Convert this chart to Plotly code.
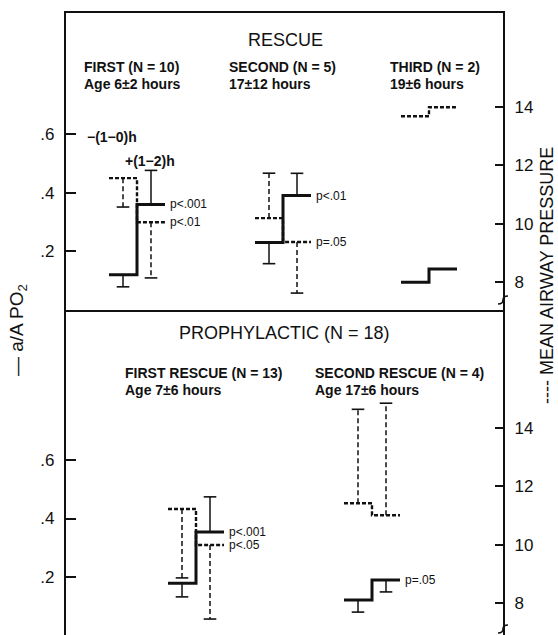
import plotly.graph_objects as go

# ---------------- data ----------------
top_groups = ["FIRST", "SECOND", "THIRD"]
top_apo2_pre = [0.12, 0.23, 0.095]
top_apo2_post = [0.36, 0.39, 0.14]
top_apo2_pre_err = [-0.041, -0.072, None]      # signed: + bar drawn up, - bar drawn down
top_apo2_post_err = [0.116, 0.076, None]
top_map_pre = [11.56, 10.19, 13.68]
top_map_post = [10.05, 9.37, 13.99]
top_map_pre_err = [-0.99, 1.54, None]
top_map_post_err = [-1.91, -1.75, None]
top_p_apo2 = ["p<.001", "p<.01", None]
top_p_map = ["p<.01", "p=.05", None]
top_titles = ["FIRST (N = 10)", "SECOND (N = 5)", "THIRD (N = 2)"]
top_ages = ["Age 6±2 hours", "17±12 hours", "19±6 hours"]

bot_groups = ["FIRST RESCUE", "SECOND RESCUE"]
bot_apo2_pre = [0.179, 0.121]
bot_apo2_post = [0.354, 0.19]
bot_apo2_pre_err = [-0.047, -0.041]
bot_apo2_post_err = [0.12, -0.041]
bot_map_pre = [11.22, 11.42]
bot_map_post = [9.99, 11.01]
bot_map_pre_err = [-2.36, 3.22]
bot_map_post_err = [-2.54, 3.84]
bot_p_apo2 = ["p<.001", "p=.05"]
bot_p_map = ["p<.05", None]
bot_titles = ["FIRST RESCUE (N = 13)", "SECOND RESCUE (N = 4)"]
bot_ages = ["Age 7±6 hours", "Age 17±6 hours"]

apo2_tickvals = [0.2, 0.4, 0.6]
apo2_ticktext = [".2", ".4", ".6"]
map_tickvals = [8, 10, 12, 14]

# ---------------- geometry / style ----------------
W, H = 558, 635
ML, MR, MT, MB = 66, 55, 13, 0
PW, PH = W - ML - MR, H - MT - MB
SPLIT = (H - 310) / PH
FONT = "Liberation Sans, Arial, Helvetica, sans-serif"
INK = "#111111"

top_pos = list(range(1, len(top_groups) + 1))
bot_pos = list(range(1, len(bot_groups) + 1))
TOP_UPX = 146.0   # pixels per x unit (top panel)
BOT_UPX = 176.0   # pixels per x unit (bottom panel)
SEG_PX = 28.0

fig = go.Figure()


def add_panel(pos, upx, xa, ya_l, ya_r, a_pre, a_post, a_pre_e, a_post_e,
              m_pre, m_post, m_pre_e, m_post_e, p_a, p_m):
    seg = SEG_PX / upx
    for axis_y, pre, post, pre_e, post_e, dashed, pv in [
        (ya_l, a_pre, a_post, a_pre_e, a_post_e, False, p_a),
        (ya_r, m_pre, m_post, m_pre_e, m_post_e, True, p_m),
    ]:
        sx, sy, ex, ey, cx, cy = [], [], [], [], [], []
        for i, p in enumerate(pos):
            sx += [p - seg, p, p, p + seg, None]
            sy += [pre[i], pre[i], post[i], post[i], None]
            for c, v, e in [(p - seg / 2, pre[i], pre_e[i]), (p + seg / 2, post[i], post_e[i])]:
                if e is None:
                    continue
                ex += [c, c, None]
                ey += [v, v + e, None]
                cx.append(c)
                cy.append(v + e)
            if pv[i]:
                fig.add_annotation(x=p + seg, y=post[i], xref=xa, yref=axis_y,
                                   text=pv[i], showarrow=False, xanchor="left",
                                   yanchor="middle", xshift=4, borderpad=0,
                                   font=dict(size=12, color=INK, family=FONT))
        fig.add_trace(go.Scatter(
            x=sx, y=sy, xaxis=xa, yaxis=axis_y, mode="lines", hoverinfo="skip",
            line=dict(color=INK, width=2.4 if dashed else 3,
                      dash="4px,2px" if dashed else "solid"),
            showlegend=False))
        fig.add_trace(go.Scatter(
            x=ex, y=ey, xaxis=xa, yaxis=axis_y, mode="lines", hoverinfo="skip",
            line=dict(color=INK, width=1.5, dash="5px,3px" if dashed else "solid"),
            showlegend=False))
        fig.add_trace(go.Scatter(
            x=cx, y=cy, xaxis=xa, yaxis=axis_y, mode="markers", hoverinfo="skip",
            marker=dict(symbol="line-ew", size=9, line=dict(color=INK, width=1.6)),
            showlegend=False))


add_panel(top_pos, TOP_UPX, "x", "y", "y2",
          top_apo2_pre, top_apo2_post, top_apo2_pre_err, top_apo2_post_err,
          top_map_pre, top_map_post, top_map_pre_err, top_map_post_err,
          top_p_apo2, top_p_map)
add_panel(bot_pos, BOT_UPX, "x2", "y3", "y4",
          bot_apo2_pre, bot_apo2_post, bot_apo2_pre_err, bot_apo2_post_err,
          bot_map_pre, bot_map_post, bot_map_pre_err, bot_map_post_err,
          bot_p_apo2, bot_p_map)


def px(xp):
    return (xp - ML) / PW


def py(yp):
    return (H - yp) / PH


def text(xp, yp, s, size, bold=False, anchor="left", angle=0):
    fig.add_annotation(x=px(xp), y=py(yp), xref="paper", yref="paper",
                       text=f"<b>{s}</b>" if bold else s, showarrow=False,
                       xanchor=anchor, yanchor="middle", textangle=angle,
                       font=dict(size=size, color=INK, family=FONT))


# panel headings
text(285, 40, "RESCUE", 18, anchor="center")
text(284, 333, "PROPHYLACTIC (N = 18)", 18, anchor="center")
for xp, t, a in zip([82, 227, 388], top_titles, top_ages):
    text(xp, 67, t, 14, bold=True)
    text(xp, 84, a, 14, bold=True)
for xp, t, a in zip([123, 313], bot_titles, bot_ages):
    text(xp, 373, t, 14, bold=True)
    text(xp, 390, a, 14, bold=True)
text(85, 137, "−(1−0)h", 14, bold=True)
text(123, 161, "+(1−2)h", 14, bold=True)

# axis titles
text(18, 330, "— a/A PO<sub>2</sub>", 19, anchor="center", angle=-90)
text(547, 276, "---- MEAN AIRWAY PRESSURE", 18, anchor="center", angle=-90)

# small break marks on the right-hand axis
for yb in (300, 629):
    fig.add_shape(type="path", xref="paper", yref="paper",
                  path=f"M {px(498)} {py(yb + 4)} Q {px(503)} {py(yb + 4)} {px(503)} {py(yb)} "
                       f"Q {px(503)} {py(yb - 4)} {px(508)} {py(yb - 4)}",
                  line=dict(color=INK, width=1.6))

tickfont = dict(size=17, color=INK, family=FONT)
left_common = dict(tickvals=apo2_tickvals, ticktext=apo2_ticktext, ticks="inside",
                   ticklen=10, tickwidth=2, tickcolor=INK, showline=True, linewidth=2.2,
                   linecolor=INK, showgrid=False, zeroline=False, tickfont=tickfont,
                   ticklabelstandoff=6, automargin=False)
right_common = dict(tickvals=map_tickvals, ticks="inside", ticklen=8, tickwidth=2,
                    tickcolor=INK, showline=True, linewidth=2.2, linecolor=INK,
                    showgrid=False, zeroline=False, tickfont=tickfont, side="right",
                    ticklabelstandoff=6, automargin=False)

top_r0 = 1 - (137 - ML) / TOP_UPX
bot_r0 = 1 - (196 - ML) / BOT_UPX
fig.update_layout(
    width=W, height=H, margin=dict(l=ML, r=MR, t=MT, b=MB, autoexpand=False),
    paper_bgcolor="white", plot_bgcolor="white", showlegend=False,
    font=dict(family=FONT, color=INK),
    xaxis=dict(domain=[0, 1], range=[top_r0, top_r0 + PW / TOP_UPX], anchor="y",
               showline=True, mirror=True, linewidth=2.4, linecolor=INK,
               showticklabels=False, ticks="", showgrid=False, zeroline=False,
               automargin=False),
    xaxis2=dict(domain=[0, 1], range=[bot_r0, bot_r0 + PW / BOT_UPX], anchor="y3",
                showline=False, showticklabels=False, ticks="", showgrid=False,
                zeroline=False, automargin=False),
    yaxis=dict(domain=[SPLIT, 1], anchor="x", range=[0, 297 / 293.3], **left_common),
    yaxis2=dict(overlaying="y", anchor="x", range=[8 - 28 / 29.17, 8 + 269 / 29.17],
                **right_common),
    yaxis3=dict(domain=[0, SPLIT], anchor="x2", range=[0.5 / 292.5, 325.5 / 292.5],
                **left_common),
    yaxis4=dict(overlaying="y3", anchor="x2", range=[8 - 32 / 29.17, 8 + 293 / 29.17],
                **right_common),
)

fig.write_html("out.html", config={"displayModeBar": False},
               post_script="document.body.style.margin='0';document.body.style.overflow='hidden';")
